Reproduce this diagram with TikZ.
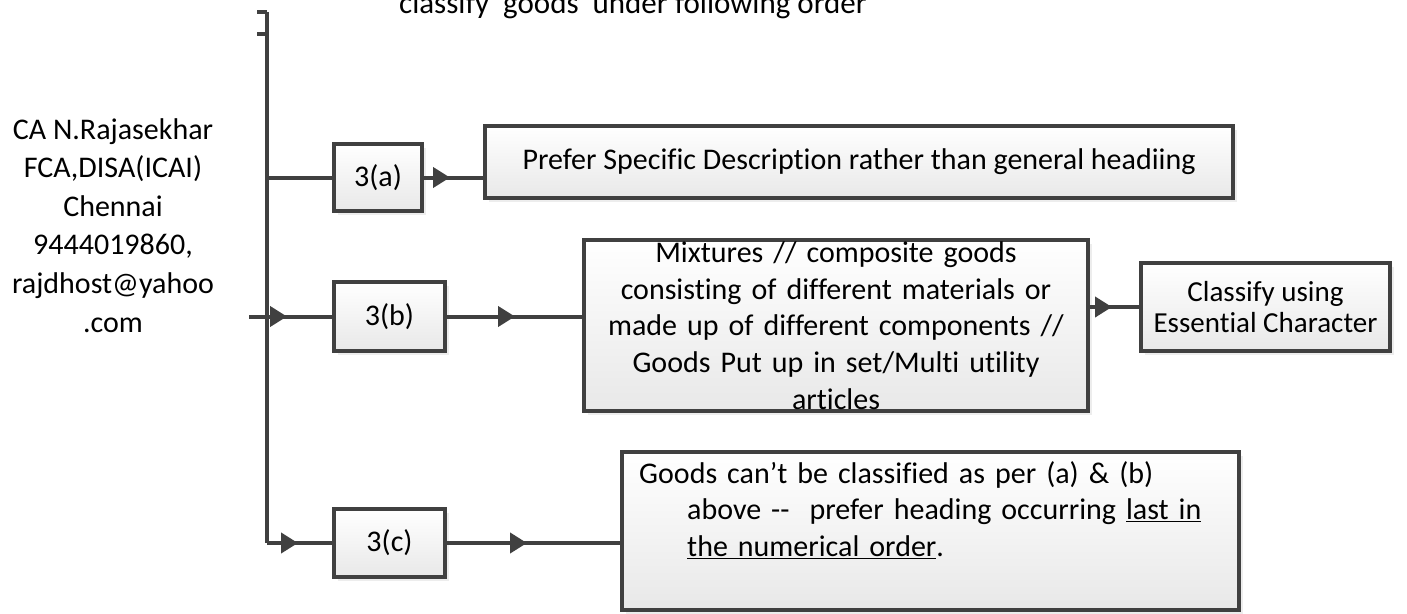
\documentclass[tikz,border=0pt]{standalone}
\usepackage{fontspec}
\setmainfont{Carlito}[Ligatures=NoCommon]
\usetikzlibrary{arrows.meta}
\usetikzlibrary{shadows}
\usetikzlibrary{decorations.markings}

\begin{document}
\begin{tikzpicture}[x=1pt, y=-1pt, font={\fontsize{30pt}{36.6pt}\selectfont},
        line/.style={draw=darkgray, line width=4pt},
        box/.style={line, top color=white, bottom color=black!9, inner sep=0pt,
            drop shadow={shadow xshift=4pt, shadow yshift=-4pt, fill=black!14}},
        tipat/.style={postaction={decorate}, decoration={markings,
            mark=at position #1 with {\arrow[darkgray]{Triangle[length=17pt, width=20pt]}}}}]
        \useasboundingbox (0,0) rectangle (1407,613);
        \coordinate (bartop) at (267,12);
        \coordinate (barbot) at (267,543);
        \coordinate (inp) at (249,316.5);
        \node[anchor=base, inner sep=0pt, font={\fontsize{31pt}{36.6pt}\selectfont}] (title) at (633,13)
            {classify\hspace{14pt}goods\hspace{14pt}under following order};
        \node[anchor=north, align=center, inner sep=0pt, font={\fontsize{30pt}{38.6pt}\selectfont}] (author) at (113,118)
            {CA N.Rajasekhar\\ FCA,DISA(ICAI)\\ Chennai\\ 9444019860,\\ rajdhost@yahoo\\ .com};
        \node[box, minimum width=88pt, minimum height=67pt] (a3) at (378,177.5) {3(a)};
        \node[box, minimum width=111pt, minimum height=69pt] (b3) at (389.5,316.5) {3(b)};
        \node[box, minimum width=111pt, minimum height=68pt] (c3) at (389.5,543) {3(c)};
        \node[box, minimum width=748pt, minimum height=72pt] (pa) at (859,162) {Prefer Specific Description rather than general headiing};
        \node[box, text width=504pt, minimum height=171pt, align=center] (pb) at (836,325.5)
            {Mixtures // composite goods\\ consisting of different materials or\\ made up of different components //\\ Goods Put up in set/Multi utility\\ articles};
        \node[box, minimum width=249pt, minimum height=88pt, align=center, font={\fontsize{29pt}{31pt}\selectfont}] (ess) at (1265.5,307)
            {Classify using\\ Essential Character};
        \node[box, minimum width=617pt, minimum height=158pt] (pc) at (930.5,531) {};
        \node[anchor=north west, text width=590pt, align=left, inner sep=0pt] (pctext) at (639,461)
            {Goods can’t be classified as per (a) \& (b)\\ \hspace*{48pt}above -{}-\ \ prefer heading occurring \underline{last in}\\ \hspace*{48pt}\underline{the numerical order}.};
        \foreach \y in {12, 34}
            \draw[line] (257,\y) -- (bartop |- 0,\y);
        \draw[line] (bartop) -- (barbot);
        \draw[line] (a3.west -| bartop) -- (a3.west);
        \draw[line, tipat=26pt] (a3.east) -- (a3.east -| pa.west);
        \draw[line, tipat=38pt] (inp) -- (b3.west);
        \draw[line, tipat=68pt] (b3.east) -- (b3.east -| pb.west);
        \draw[line, tipat=22pt] (pb.east |- ess.west) -- (ess.west);
        \draw[line, tipat=31pt] (barbot) -- (c3.west);
        \draw[line, tipat=80pt] (c3.east) -- (c3.east -| pc.west);
    \end{tikzpicture}
\end{document}
